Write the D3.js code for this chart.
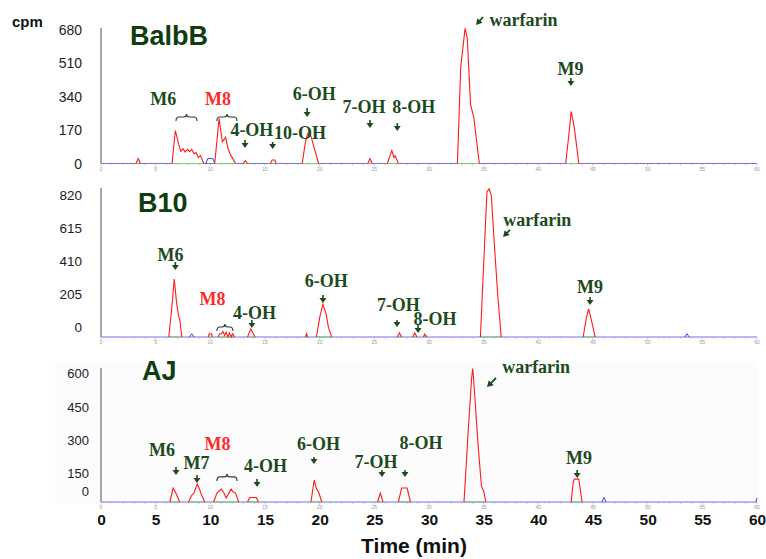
<!DOCTYPE html>
<html>
<head>
    <meta charset="utf-8" />
    <script src="https://d3js.org/d3.v7.min.js"></script>
    <title>warfarin metabolite chromatograms</title>
    <style>
        body { margin: 0; background: #fff; }
    </style>
</head>
<body>
    <svg id="chart"></svg>
    <script type="text/javascript">
        // time axis (min)
        const timeTicks = [0, 5, 10, 15, 20, 25, 30, 35, 40, 45, 50, 55, 60];

        // y tick labels (cpm) per strain
        const balbTicks = [680, 510, 340, 170, 0];
        const b10Ticks = [820, 615, 410, 205, 0];
        const ajTicks = [600, 450, 300, 150, 0];

        // radio traces, [time, cpm], one array per peak
        const balbTrace = [
            [[3.2, 0], [3.4, 25], [3.6, 0]],
            [[6.5, 0], [6.8, 168], [7.1, 100], [7.3, 62], [7.5, 75], [7.7, 58], [7.9, 72], [8.1, 60], [8.3, 72], [8.5, 50], [8.7, 56], [8.9, 30], [9.1, 40], [9.4, 0]],
            [[10.4, 0], [10.8, 229], [11.1, 110], [11.4, 133], [11.6, 80], [11.8, 50], [12.0, 30], [12.3, 0]],
            [[13.0, 0], [13.2, 15], [13.4, 0]],
            [[15.5, 0], [15.65, 18], [15.9, 18], [16.0, 0]],
            [[18.4, 0], [18.7, 110], [18.9, 152], [19.2, 140], [19.5, 80], [19.9, 0]],
            [[24.4, 0], [24.6, 25], [24.8, 0]],
            [[26.2, 0], [26.4, 35], [26.6, 66], [26.8, 30], [26.9, 40], [27.2, 0]],
            [[32.6, 0], [32.9, 490], [33.3, 688], [33.5, 640], [33.8, 300], [34.1, 235], [34.6, 0]],
            [[42.5, 0], [42.8, 150], [43.0, 265], [43.3, 180], [43.7, 0]]
        ];
        const balbBlue = [
            [[9.6, 0], [9.75, 25], [10.25, 25], [10.4, 0]]
        ];

        const b10Trace = [
            [[6.2, 0], [6.5, 200], [6.7, 360], [6.9, 220], [7.1, 130], [7.2, 110], [7.4, 0]],
            [[9.8, 0], [9.9, 20], [10.1, 20], [10.2, 0]],
            [[10.7, 0], [10.85, 20], [11.0, 20], [11.15, 35], [11.3, 10], [11.45, 30], [11.6, 0], [11.75, 25], [11.9, 0], [12.05, 20], [12.2, 0]],
            [[13.4, 0], [13.7, 50], [14.1, 0]],
            [[18.7, 0], [18.8, 20], [18.9, 0]],
            [[19.7, 0], [20.0, 120], [20.3, 205], [20.6, 140], [20.8, 60], [21.1, 0]],
            [[27.1, 0], [27.3, 25], [27.5, 0]],
            [[28.5, 0], [28.7, 25], [28.9, 0]],
            [[29.5, 0], [29.6, 18], [29.8, 0]],
            [[34.7, 0], [35.0, 450], [35.3, 900], [35.5, 920], [35.7, 880], [36.0, 550], [36.3, 250], [36.6, 0]],
            [[44.1, 0], [44.4, 120], [44.6, 175], [44.8, 120], [45.2, 0]]
        ];
        const b10Blue = [
            [[8.1, 0], [8.3, 20], [8.5, 0]],
            [[53.4, 0], [53.6, 20], [53.8, 0]]
        ];

        const ajTrace = [
            [[6.3, 0], [6.6, 63], [6.9, 35], [7.2, 0]],
            [[8.0, 0], [8.3, 30], [8.5, 40], [8.8, 81], [9.0, 60], [9.2, 30], [9.5, 0]],
            [[10.3, 0], [10.6, 40], [11.0, 58], [11.2, 45], [11.45, 18], [11.9, 58], [12.1, 45], [12.3, 40], [12.6, 0]],
            [[13.4, 0], [13.6, 20], [14.2, 20], [14.4, 0]],
            [[19.2, 0], [19.5, 99], [19.7, 60], [19.9, 45], [20.2, 0]],
            [[25.3, 0], [25.55, 40], [25.8, 0]],
            [[27.2, 0], [27.5, 63], [28.0, 63], [28.3, 0]],
            [[33.2, 0], [33.6, 330], [33.9, 560], [34.0, 600], [34.2, 470], [34.5, 250], [34.8, 70], [35.0, 50], [35.2, 0]],
            [[43.0, 0], [43.2, 90], [43.3, 103], [43.7, 103], [44.0, 0]]
        ];
        const ajBlue = [
            [[45.8, 0], [46.0, 20], [46.2, 0]],
            [[59.9, 0], [60, 18]]
        ];

        // peak names: [text, time, cpm]
        const balbLabels = [['M6', 5.7, 329], ['M8', 10.7, 329], ['4-OH', 13.8, 171], ['10-OH', 18.2, 155], ['6-OH', 19.5, 354], ['7-OH', 24.05, 288], ['8-OH', 28.6, 288], ['warfarin', 38.65, 731], ['M9', 42.94, 481]];
        const b10Labels = [['M6', 6.36, 509], ['M8', 10.2, 236], ['4-OH', 14.04, 149], ['6-OH', 20.6, 348], ['7-OH', 27.2, 199], ['8-OH', 30.55, 112], ['warfarin', 39.9, 727], ['M9', 44.73, 311]];
        const ajLabels = [['M6', 5.58, 234], ['M7', 8.73, 176], ['M8', 10.66, 261], ['4-OH', 15.05, 162], ['6-OH', 19.9, 261], ['7-OH', 25.15, 180], ['8-OH', 29.27, 266], ['warfarin', 39.8, 608], ['M9', 43.72, 198]];

        // down arrows: [time, cpm at tail, cpm at tip]
        const balbArrows = [[13.17, 120, 79], [15.7, 110, 74], [18.85, 283, 237], [24.6, 222, 181], [27.1, 206, 166], [42.98, 435, 395]];
        const b10Arrows = [[6.8, 466, 416], [13.8, 106, 56], [20.3, 261, 211], [27.07, 106, 62], [29.0, 75, 25], [44.73, 248, 199]];
        const ajArrows = [[6.86, 158, 122], [8.78, 122, 86], [14.27, 104, 68], [19.48, 203, 171], [25.7, 144, 113], [27.8, 144, 113], [43.55, 144, 108]];

        // braces: [time from, time to, cpm]
        const balbBraces = [[6.86, 8.78, 237], [10.6, 12.44, 237]];
        const b10Braces = [[10.6, 12.07, 62]];
        const ajBraces = [[10.6, 12.44, 113]];

        // slanted arrow next to "warfarin": [time, cpm, time, cpm]
        const balbPointer = [34.94, 746, 34.3, 705];
        const b10Pointer = [37.4, 665, 36.77, 621];
        const ajPointer = [36.13, 558, 35.3, 518];

        const redNames = ['M8'];

        var width = 766, height = 559;
        var green = '#1d4a1d';
        var svg = d3.select('#chart').attr('width', width).attr('height', height);

        var x = d3.scaleLinear().domain([0, 60]).range([101, 757]);

        var panels = [
            { title: 'BalbB', titleX: 130, titleY: 45, baseline: 163.5, top: 28, max: 690, ticks: balbTicks, shift: 0, zeroLift: 0, tickSize: 14,
              trace: balbTrace, blue: balbBlue, labels: balbLabels, arrows: balbArrows, braces: balbBraces, pointer: balbPointer, last: false },
            { title: 'B10', titleX: 138, titleY: 212, baseline: 337, top: 188, max: 925, ticks: b10Ticks, shift: -10, zeroLift: 10, tickSize: 13.5,
              trace: b10Trace, blue: b10Blue, labels: b10Labels, arrows: b10Arrows, braces: b10Braces, pointer: b10Pointer, last: false },
            { title: 'AJ', titleX: 142, titleY: 380, baseline: 502, top: 368, max: 603, ticks: ajTicks, shift: 5, zeroLift: 11, tickSize: 13,
              trace: ajTrace, blue: ajBlue, labels: ajLabels, arrows: ajArrows, braces: ajBraces, pointer: ajPointer, last: true }
        ];

        // very faint frame behind the last panel
        svg.append('rect')
            .attr('x', 55).attr('y', 362)
            .attr('width', 703).attr('height', 142)
            .attr('fill', '#fcfcfc');

        svg.append('text')
            .attr('x', 12).attr('y', 27)
            .style('font-family', 'Arial, "Liberation Sans", sans-serif')
            .style('font-weight', 'bold')
            .style('font-size', '15px')
            .attr('fill', '#111')
            .text('cpm');

        panels.forEach(function (p) {
            var y = d3.scaleLinear().domain([0, p.max]).range([p.baseline, p.top]);
            var g = svg.append('g');

            // left axis line
            g.append('line')
                .attr('x1', x(0)).attr('x2', x(0))
                .attr('y1', y(p.max)).attr('y2', y(0))
                .style('stroke', '#8a8a8a')
                .style('stroke-width', 1.5);

            // y tick labels
            g.selectAll('.ytick').data(p.ticks).enter().append('text')
                .attr('x', p.last ? 89 : 82)
                .attr('y', function (d) { return d === 0 ? y(0) - p.zeroLift : y(d) + p.shift; })
                .attr('dy', '0.36em')
                .attr('text-anchor', 'end')
                .style('font-family', 'Arial, "Liberation Sans", sans-serif')
                .style('font-size', p.tickSize + 'px')
                .attr('fill', '#222')
                .text(function (d) { return d; });

            // baseline
            g.append('line')
                .attr('x1', x(0)).attr('x2', x(60))
                .attr('y1', y(0)).attr('y2', y(0))
                .style('stroke', '#7373e6')
                .style('stroke-width', 1);

            // minor ticks and tiny instrument labels along the baseline
            g.selectAll('.minor').data(d3.range(0, 61)).enter().append('line')
                .attr('x1', function (d) { return x(d); })
                .attr('x2', function (d) { return x(d); })
                .attr('y1', y(0) + 0.5).attr('y2', function (d) { return y(0) + (d % 5 === 0 ? 3 : 2); })
                .style('stroke', '#b0b0b0')
                .style('stroke-width', 0.6);
            g.selectAll('.tiny').data(timeTicks).enter().append('text')
                .attr('x', function (d) { return x(d); })
                .attr('y', y(0) + 7)
                .attr('text-anchor', 'middle')
                .style('font-family', 'Arial, sans-serif')
                .style('font-size', '5px')
                .attr('fill', '#999')
                .text(function (d) { return d; });

            var line = d3.line()
                .x(function (d) { return x(d[0]); })
                .y(function (d) { return y(d[1]); });

            // integration baseline under each peak
            g.selectAll('.integ').data(p.trace).enter().append('line')
                .attr('x1', function (d) { return x(d[0][0]); })
                .attr('x2', function (d) { return x(d[d.length - 1][0]); })
                .attr('y1', y(0)).attr('y2', y(0))
                .style('stroke', '#86c986')
                .style('stroke-width', 1.2);

            g.selectAll('.bluepk').data(p.blue).enter().append('path')
                .attr('d', line)
                .attr('fill', 'none')
                .style('stroke', '#3f3ff0')
                .style('stroke-width', 1);

            g.selectAll('.peak').data(p.trace).enter().append('path')
                .attr('d', line)
                .attr('fill', 'none')
                .style('stroke', '#ff1a1a')
                .style('stroke-width', 1.1);

            // strain title
            g.append('text')
                .attr('x', p.titleX).attr('y', p.titleY)
                .style('font-family', 'Arial, "Liberation Sans", sans-serif')
                .style('font-weight', 'bold')
                .style('font-size', '27px')
                .attr('fill', '#0f3d0f')
                .text(p.title);

            // peak names
            g.selectAll('.pname').data(p.labels).enter().append('text')
                .attr('x', function (d) { return x(d[1]); })
                .attr('y', function (d) { return y(d[2]); })
                .attr('dy', '0.34em')
                .attr('text-anchor', 'middle')
                .style('font-family', '"Liberation Serif", "Times New Roman", serif')
                .style('font-weight', 'bold')
                .style('font-size', '18px')
                .attr('fill', function (d) { return redNames.indexOf(d[0]) >= 0 ? '#ff2a2a' : green; })
                .text(function (d) { return d[0]; });

            // down arrows
            p.arrows.forEach(function (a) {
                var ax = x(a[0]), y1 = y(a[1]), y2 = y(a[2]);
                g.append('line')
                    .attr('x1', ax).attr('x2', ax)
                    .attr('y1', y1).attr('y2', y2 - 3)
                    .style('stroke', green)
                    .style('stroke-width', 1.6);
                g.append('path')
                    .attr('d', 'M' + (ax - 3.5) + ',' + (y2 - 5) + 'L' + (ax + 3.5) + ',' + (y2 - 5) + 'L' + ax + ',' + y2 + 'Z')
                    .attr('fill', green);
            });

            // braces
            p.braces.forEach(function (b) {
                var x1 = x(b[0]), x2 = x(b[1]), by = y(b[2]), xm = (x1 + x2) / 2;
                g.append('path')
                    .attr('d', 'M' + x1 + ',' + (by + 4) + 'Q' + x1 + ',' + by + ' ' + (x1 + 3) + ',' + by +
                        'L' + (xm - 3) + ',' + by + 'Q' + xm + ',' + by + ' ' + xm + ',' + (by - 3) +
                        'Q' + xm + ',' + by + ' ' + (xm + 3) + ',' + by +
                        'L' + (x2 - 3) + ',' + by + 'Q' + x2 + ',' + by + ' ' + x2 + ',' + (by + 4))
                    .attr('fill', 'none')
                    .style('stroke', '#2b3f2b')
                    .style('stroke-width', 1.1);
            });

            // slanted pointer to the warfarin peak
            var q = p.pointer;
            var px1 = x(q[0]), py1 = y(q[1]), px2 = x(q[2]), py2 = y(q[3]);
            var ang = Math.atan2(py2 - py1, px2 - px1);
            g.append('line')
                .attr('x1', px1).attr('y1', py1)
                .attr('x2', px2 - 3 * Math.cos(ang)).attr('y2', py2 - 3 * Math.sin(ang))
                .style('stroke', green)
                .style('stroke-width', 1.8);
            g.append('path')
                .attr('d', 'M0,0L-6,-3.5L-6,3.5Z')
                .attr('transform', 'translate(' + px2 + ',' + py2 + ') rotate(' + (ang * 180 / Math.PI) + ')')
                .attr('fill', green);

            if (p.last) {
                var xAxis = d3.axisBottom(x).tickValues(timeTicks).tickSize(0).tickPadding(0);
                var ax = svg.append('g')
                    .attr('transform', 'translate(0,' + (y(0) + 12) + ')')
                    .call(xAxis);
                ax.select('.domain').remove();
                ax.selectAll('text')
                    .attr('dy', '0.71em')
                    .style('font-family', 'Arial, "Liberation Sans", sans-serif')
                    .style('font-weight', 'bold')
                    .style('font-size', '15.5px')
                    .attr('fill', '#111');
            }
        });

        svg.append('text')
            .attr('x', (x(0) + x(60)) / 2 - 15)
            .attr('y', 553)
            .attr('text-anchor', 'middle')
            .style('font-family', 'Arial, "Liberation Sans", sans-serif')
            .style('font-weight', 'bold')
            .style('font-size', '21px')
            .attr('fill', '#111')
            .text('Time (min)');
    </script>
</body>
</html>
